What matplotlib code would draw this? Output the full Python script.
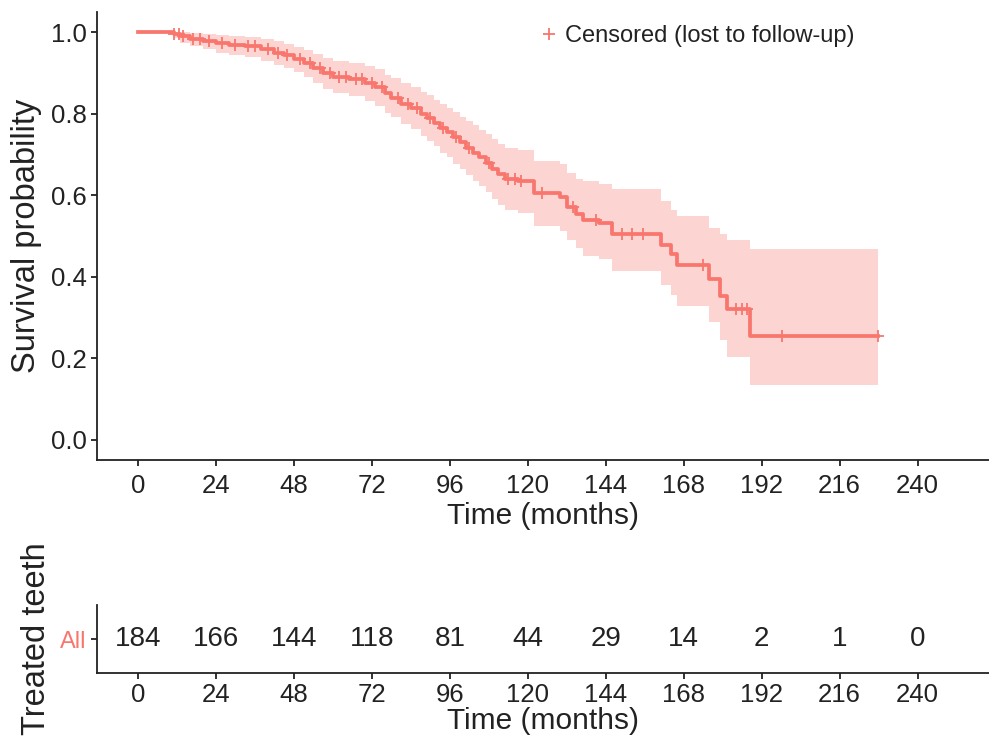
import numpy as np
import matplotlib.pyplot as plt
from matplotlib.lines import Line2D

plt.rcParams['font.family'] = ['Liberation Sans', 'DejaVu Sans']

# Kaplan-Meier steps
event_t = [11, 13, 16, 20, 24, 28, 33, 38, 42, 45,
           48, 51, 54, 57, 60, 65, 70, 73, 76, 78,
           81, 84, 87, 89, 91, 93, 95, 97, 99, 101,
           103, 105, 107, 109, 111, 113, 117, 122, 130, 132,
           135, 137, 142, 146, 161, 164, 166, 175.7, 179.3, 181.4,
           188.5]
surv = [0.995, 0.99, 0.984, 0.978, 0.973, 0.968, 0.966, 0.958, 0.95, 0.944,
        0.935, 0.924, 0.912, 0.90, 0.89, 0.885, 0.875, 0.865, 0.85, 0.84,
        0.825, 0.815, 0.80, 0.79, 0.778, 0.765, 0.755, 0.742, 0.73, 0.717,
        0.705, 0.693, 0.68, 0.665, 0.652, 0.64, 0.635, 0.605, 0.595, 0.572,
        0.555, 0.54, 0.532, 0.505, 0.478, 0.455, 0.43, 0.394, 0.353, 0.32,
        0.254]
upper = [1.0, 1.0, 0.998, 0.995, 0.993, 0.99, 0.988, 0.983, 0.978, 0.972,
         0.965, 0.957, 0.948, 0.938, 0.93, 0.925, 0.917, 0.909, 0.896, 0.888,
         0.875, 0.866, 0.853, 0.845, 0.835, 0.824, 0.815, 0.804, 0.793, 0.782,
         0.772, 0.761, 0.75, 0.737, 0.726, 0.715, 0.71, 0.683, 0.676, 0.655,
         0.64, 0.635, 0.628, 0.615, 0.585, 0.565, 0.548, 0.52, 0.505, 0.49,
         0.468]
lower = [0.985, 0.975, 0.966, 0.958, 0.95, 0.944, 0.94, 0.93, 0.92, 0.913,
         0.902, 0.89, 0.876, 0.862, 0.85, 0.843, 0.832, 0.82, 0.803, 0.792,
         0.774, 0.762, 0.745, 0.733, 0.72, 0.705, 0.693, 0.678, 0.665, 0.65,
         0.636, 0.623, 0.608, 0.592, 0.577, 0.563, 0.557, 0.525, 0.513, 0.49,
         0.47, 0.452, 0.443, 0.413, 0.38, 0.355, 0.328, 0.288, 0.245, 0.204,
         0.135]

censor_t = [11, 12.5, 14, 17, 19, 22, 26, 30, 34, 36, 40, 43, 46, 50, 53,
            56, 59, 62, 64, 67, 69, 72, 75, 80, 83, 86, 90, 94, 98, 102,
            108, 114, 116, 118, 124.5, 134, 141, 149, 152, 155.5, 174, 184,
            186, 187.6, 198.4, 227.7]

risk_times = [0, 24, 48, 72, 96, 120, 144, 168, 192, 216, 240]
at_risk = [184, 166, 144, 118, 81, 44, 29, 14, 2, 1, 0]

RED = '#F8766D'
TXT = '#222222'

t_end = censor_t[-1]
t_step = np.array([0] + event_t + [t_end])
s_step = np.array([1.0] + surv + [surv[-1]])
up_step = np.array([1.0] + upper + [upper[-1]])
lo_step = np.array([1.0] + lower + [lower[-1]])

fig = plt.figure(figsize=(9.89, 7.45), dpi=100)
ax = fig.add_axes([97 / 989, 1 - 460 / 745, 1 - 97 / 989, 448 / 745])

ax.fill_between(t_step, lo_step, up_step, step='post', color=RED, alpha=0.3, lw=0)
ax.step(t_step, s_step, where='post', color=RED, lw=2.7)
idx = np.searchsorted(t_step, censor_t, side='right') - 1
ax.plot(censor_t, s_step[idx], ls='none', marker='+', ms=8, mew=1.3, color=RED)

ax.set_xlim(-12.6, 262)
ax.set_ylim(-0.05, 1.05)
ax.set_xticks(risk_times)
ax.set_yticks([0, 0.2, 0.4, 0.6, 0.8, 1.0])
ax.set_yticklabels(['0.0', '0.2', '0.4', '0.6', '0.8', '1.0'])
ax.set_xlabel('Time (months)', fontsize=21.5, color=TXT, labelpad=3)
ax.set_ylabel('Survival probability', fontsize=23.5, color=TXT, labelpad=6)
for s in ['top', 'right']:
    ax.spines[s].set_visible(False)
for s in ['left', 'bottom']:
    ax.spines[s].set_linewidth(1.3)
    ax.spines[s].set_color(TXT)
ax.tick_params(labelsize=18.5, colors=TXT, width=1.3, length=4)
ax.tick_params(axis='x', pad=6)

handle = Line2D([], [], ls='none', marker='+', ms=9, mew=1.3, color=RED)
ax.legend([handle], ['Censored (lost to follow-up)'], loc='upper left',
          bbox_to_anchor=(0.472, 1.018), frameon=False, fontsize=17,
          handlelength=0.8, handletextpad=0.3, labelcolor=TXT)

# number at risk table
rt = fig.add_axes([97 / 989, 1 - 673 / 745, 1 - 97 / 989, 68 / 745])
for x, n in zip(risk_times, at_risk):
    rt.text(x, 1, str(n), ha='center', va='center', fontsize=20, color=TXT)
rt.set_xlim(-12.6, 262)
rt.set_ylim(0.5, 1.5)
rt.set_xticks(risk_times)
rt.set_yticks([1])
rt.set_yticklabels(['All'])
rt.set_xlabel('Time (months)', fontsize=21.5, color=TXT, labelpad=0)
rt.set_ylabel('Treated teeth', fontsize=23.5, color=TXT, labelpad=6)
for s in ['top', 'right']:
    rt.spines[s].set_visible(False)
for s in ['left', 'bottom']:
    rt.spines[s].set_linewidth(1.3)
    rt.spines[s].set_color(TXT)
rt.tick_params(labelsize=18.5, colors=TXT, width=1.3, length=4)
rt.tick_params(axis='y', labelsize=17)
rt.get_yticklabels()[0].set_color(RED)

fig.savefig('out.png', dpi=100)
